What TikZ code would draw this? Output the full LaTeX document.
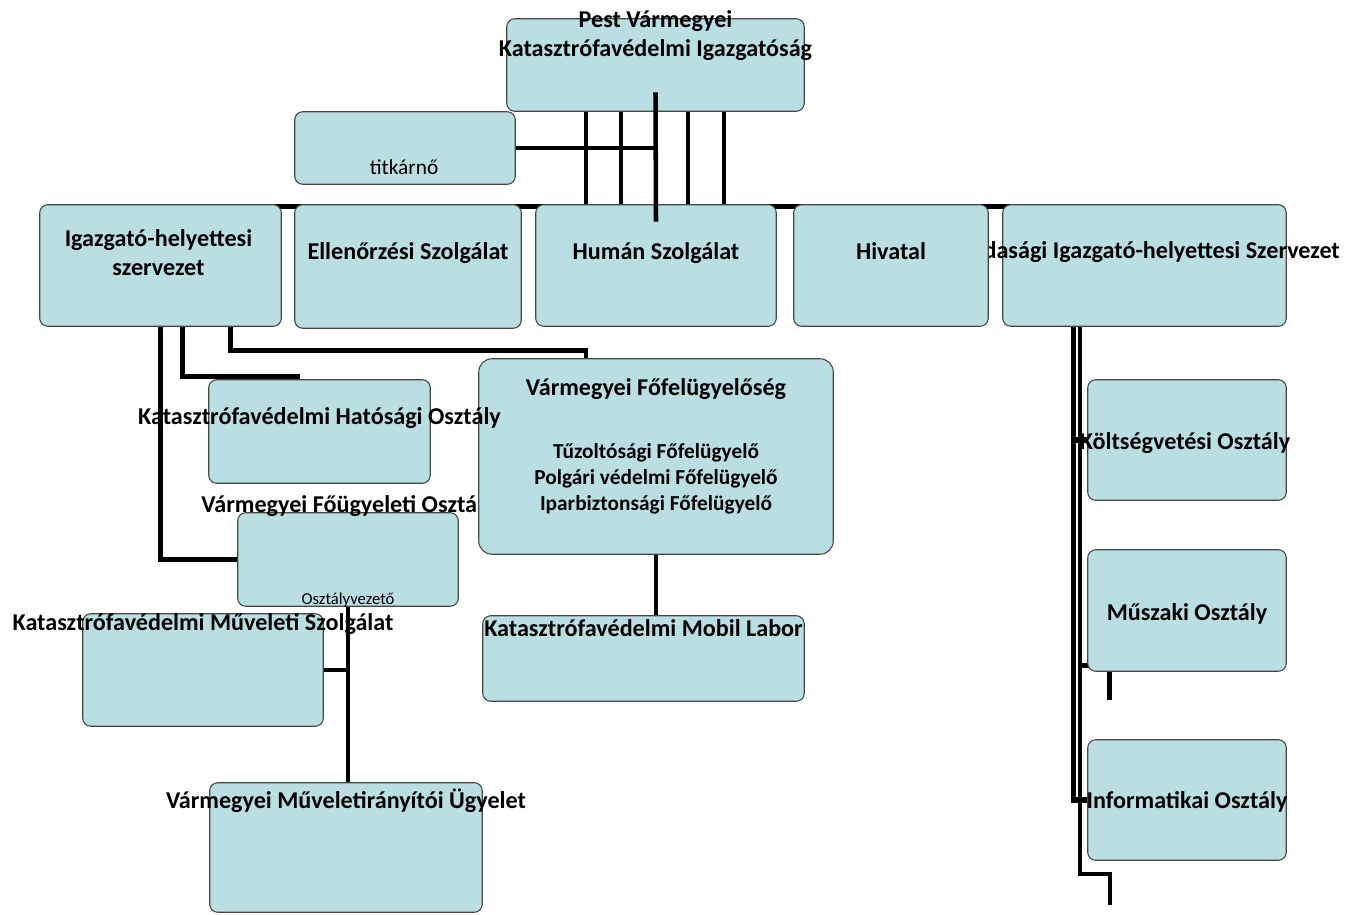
\documentclass[tikz,border=0pt]{standalone}
\usepackage{fontspec}
\setmainfont{Carlito}
\usetikzlibrary{fit,calc}
\definecolor{boxfill}{RGB}{186,223,227}
\definecolor{boxline}{RGB}{70,70,70}
\tikzset{
  box/.style={draw=boxline, line width=0.8pt, fill=boxfill, rounded corners=6pt, inner sep=0pt},
  lbl/.style={font=\bfseries\fontsize{18.1}{21.75}\selectfont, align=center, inner sep=0pt},
  sublbl/.style={font=\bfseries\fontsize{16}{19.5}\selectfont, align=center, inner sep=0pt},
  reglbl/.style={font=\fontsize{16}{19}\selectfont, inner sep=0pt},
  smalllbl/.style={font=\fontsize{12.5}{15}\selectfont, inner sep=0pt},
  conn/.style={line width=3.4pt, black},
  connthick/.style={line width=3.8pt, black},
  connthin/.style={line width=3pt, black},
}
\begin{document}
\begin{tikzpicture}[x=0.75pt,y=-0.75pt]
\useasboundingbox (0,0) rectangle (1360,914);
% invisible box geometry (named nodes), drawn later
\path
  node[inner sep=0pt, fit={(507,19) (804,111)}] (top) {}
  node[inner sep=0pt, fit={(295,112) (515,184)}] (titk) {}
  node[inner sep=0pt, fit={(40,205) (281,326)}] (igh) {}
  node[inner sep=0pt, fit={(295,205) (521,328)}] (ell) {}
  node[inner sep=0pt, fit={(536,205) (776,326)}] (hum) {}
  node[inner sep=0pt, fit={(794,205) (988,326)}] (hiv) {}
  node[inner sep=0pt, fit={(1003,205) (1286,326)}] (gaz) {}
  node[inner sep=0pt, fit={(209,380) (430,483)}] (hat) {}
  node[inner sep=0pt, fit={(238,513) (458,606)}] (fougy) {}
  node[inner sep=0pt, fit={(479,359) (833,554)}] (fofe) {}
  node[inner sep=0pt, fit={(83,614) (323,726)}] (mszo) {}
  node[inner sep=0pt, fit={(210,783) (482,912)}] (mir) {}
  node[inner sep=0pt, fit={(483,616) (804,701)}] (mob) {}
  node[inner sep=0pt, fit={(1088,380) (1286,500)}] (kolt) {}
  node[inner sep=0pt, fit={(1088,550) (1286,671)}] (musz) {}
  node[inner sep=0pt, fit={(1088,740) (1286,860)}] (inf) {};

% ---- connectors (behind boxes)
\foreach \dx in {-69.5,-34.5,32.5,68.5}
  \draw[conn] (top.south) ++(\dx,0) -- +(0,96);
\draw[conn] (titk.east) -- (titk.east -| top.south);
\draw[conn] ($(igh.north)+(0,2)$) -- ($(gaz.north)+(0,2)$);
% left subtree
\draw[conn] (igh.south) -- (igh.south |- fougy.west) -- (fougy.west);
\draw[conn] ($(igh.south)+(22,0)$) -- ++(0,50) -| ($(hat.north)+(-22,0)$);
\draw[conn] ($(igh.south)+(70,0)$) -- ++(0,24) -| ($(fofe.north)+(-70,0)$);
\draw[conn] (fougy.south) -- (fougy.south |- mir.north);
\draw[conn] (mszo.east) -- (mszo.east -| fougy.south);
\draw[conn] (fofe.south) -- (fofe.south |- mob.north);
% right subtree
\draw[connthick] ($(gaz.south west)+(71,0)$) |- (inf.west);
\draw[connthin] ($(gaz.south west)+(77,0)$) -- ++(0,548) -| ++(30,31);
\draw[connthick] ($(kolt.west)+(-17,0)$) -- (kolt.west);
\draw[conn] ($(musz.south west)+(-8,-6)$) -- ++(14,0);
\draw[conn] ($(musz.south west)+(22,0)$) -- ++(0,29);

% ---- boxes and texts
\node[box, fit=(top)] (topb) {};
\node[lbl] (toptx) at ($(top.north)+(0,16.5)$) {Pest Vármegyei\\Katasztrófavédelmi Igazgatóság};
\node[box, fit=(titk)] (titkb) {};
\node[reglbl] (titktx) at ($(titk.south)+(-1,-17)$) {titkárnő};
\node[box, fit=(igh)] (ighb) {};
\node[lbl] (ightx) at ($(igh.north)+(-2,47.5)$) {Igazgató-helyettesi\\szervezet};
\node[box, fit=(ell)] (ellb) {};
\node[lbl] (elltx) at ($(ell.north)+(0,48)$) {Ellenőrzési Szolgálat};
\node[box, fit=(hum)] (humb) {};
\node[lbl] (humtx) at ($(hum.north)+(0,48)$) {Humán Szolgálat};
\node[box, fit=(gaz)] (gazb) {};
\node[lbl] (gaztx) at ($(gaz.north)+(-1,47)$) {Gazdasági Igazgató-helyettesi Szervezet};
\node[box, fit=(hiv)] (hivb) {};
\node[lbl] (hivtx) at ($(hiv.north)+(0,46.5)$) {Hivatal};

\node[box, fit=(hat)] (hatb) {};
\node[box, fit=(fougy)] (fougyb) {};
\node[lbl] (fougytx) at ($(fougy.north)+(0,-7)$) {Vármegyei Főügyeleti Osztály};
\node[box, rounded corners=10pt, fit=(fofe)] (fofeb) {};
\node[lbl] (fofetx) at ($(fofe.north)+(0,30)$) {Vármegyei Főfelügyelőség};
\node[sublbl] (fofesub) at ($(fofe.north)+(0,120)$) {Tűzoltósági Főfelügyelő\\Polgári védelmi Főfelügyelő\\Iparbiztonsági Főfelügyelő};
\node[lbl] (hattx) at ($(hat.north)+(0,38.5)$) {Katasztrófavédelmi Hatósági Osztály};
\node[smalllbl] (ovtx) at ($(fougy.south)+(0,-6)$) {Osztályvezető};

\node[box, fit=(mszo)] (mszob) {};
\node[lbl] (mszotx) at ($(mszo.north)+(0,10)$) {Katasztrófavédelmi Műveleti Szolgálat};
\node[box, fit=(mir)] (mirb) {};
\node[lbl] (mirtx) at ($(mir.north)+(0,18)$) {Vármegyei Műveletirányítói Ügyelet};
\node[box, fit=(mob)] (mobb) {};
\node[lbl] (mobtx) at ($(mob.north)+(0,12.5)$) {Katasztrófavédelmi Mobil Labor};

\node[box, fit=(kolt)] (koltb) {};
\node[lbl] (kolttx) at ($(kolt.center)+(-2,3)$) {Költségvetési Osztály};
\node[box, fit=(musz)] (muszb) {};
\node[lbl] (musztx) at ($(musz.center)+(0,3)$) {Műszaki Osztály};
\node[box, fit=(inf)] (infb) {};
\node[lbl] (inftx) at ($(inf.center)+(0,2)$) {Informatikai Osztály};

% centre line on top
\draw[conn] ($(top.south)+(0,-19)$) -- ($(hum.north)+(0,17)$);
\end{tikzpicture}
\end{document}
